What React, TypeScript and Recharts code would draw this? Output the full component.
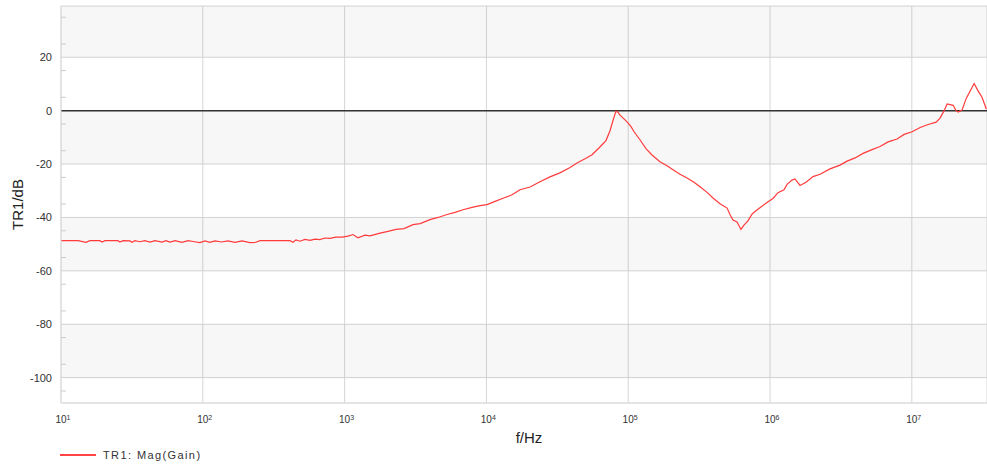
import {
  CartesianGrid,
  Line,
  LineChart,
  ReferenceArea,
  ReferenceLine,
  XAxis,
  YAxis,
} from "recharts";

// 周波数 [Hz] とゲイン [dB]。画像から読み取った値。
const freqHz = [
  10, 13.2, 15, 16, 18.8, 19.5, 20.4, 25.2, 26, 27.4, 30.7, 31.7, 33.2, 36, 39,
  42.4, 46, 51.5, 55, 58.7, 63.7, 71.3, 78.7, 85.3, 95.5, 103.7, 112, 122, 136,
  150, 169, 189, 215, 237, 253, 412, 433, 454, 484, 525, 570, 618, 670, 727,
  789, 869, 959, 1057, 1146, 1243, 1393, 1510, 1778, 2024, 2303, 2624, 3036,
  3404, 4000, 4560, 5275, 6011, 6843, 7912, 9018, 10100, 11500, 13100, 15150,
  17260, 20300, 23870, 28060, 33000, 38900, 43560, 49600, 55600, 63200, 69700,
  74400, 78100, 82000, 84700, 87500, 93400, 98100, 104700, 110000, 121000,
  133400, 147100, 167500, 187800, 207000, 232000, 260000, 291000, 321000,
  360000, 396000, 444000, 498000, 523000, 548000, 585000, 624000, 655000,
  699000, 746000, 796000, 877000, 968000, 1050000, 1138000, 1255000, 1318000,
  1430000, 1500000, 1628000, 1795000, 2011000, 2253000, 2649000, 3117000,
  3493000, 3981000, 4531000, 5244000, 5970000, 6800000, 7870000, 8830000,
  10050000, 11450000, 13040000, 14840000, 15820000, 16900000, 17740000,
  19550000, 20520000, 21190000, 22600000, 24150000, 27500000, 29310000,
  31260000, 33600000,
];

const gainDb = [
  -48.7, -48.7, -49.3, -48.7, -48.7, -49.2, -48.7, -48.7, -49.2, -48.7, -48.8,
  -49.3, -48.7, -49.1, -48.7, -49.2, -48.7, -49.2, -48.7, -49.2, -48.7, -49.3,
  -48.7, -49.0, -49.4, -48.8, -49.3, -48.8, -49.2, -48.8, -49.3, -48.8, -49.4,
  -49.3, -48.7, -48.7, -49.3, -48.4, -48.9, -48.2, -48.6, -48.1, -48.3, -47.7,
  -47.8, -47.4, -47.4, -47.0, -46.4, -47.6, -46.6, -46.9, -45.9, -45.2, -44.5,
  -44.2, -42.7, -42.3, -40.8, -40.0, -38.9, -38.1, -37.1, -36.2, -35.6, -35.2,
  -34.0, -32.8, -31.5, -29.6, -28.6, -26.6, -24.8, -23.3, -21.3, -19.6, -18.0,
  -16.5, -13.6, -11.2, -7.5, -3.7, -0.2, -0.6, -1.7, -3.1, -4.2, -6.0, -7.9,
  -10.9, -14.2, -16.6, -19.1, -20.6, -22.1, -23.8, -25.2, -26.8, -28.5, -30.6,
  -32.7, -34.9, -36.5, -39.0, -41.0, -41.7, -44.5, -42.9, -41.3, -38.8, -37.5,
  -35.8, -34.1, -32.9, -30.7, -29.6, -27.6, -26.0, -25.6, -28.0, -26.8, -24.7,
  -23.8, -21.8, -20.4, -18.9, -17.7, -16.0, -14.6, -13.4, -11.7, -10.6, -8.9,
  -7.9, -6.3, -5.2, -4.3, -2.8, 0.0, 2.5, 2.0, 0.0, -0.5, 0.2, 4.5, 10.2, 7.4,
  5.0, 0.5,
];

const seriesName = "TR1: Mag(Gain)";
const xTicks = [1e1, 1e2, 1e3, 1e4, 1e5, 1e6, 1e7];
const yTicks = [20, 0, -20, -40, -60, -80, -100];
const yMinorTicks = [
  35, 30, 25, 15, 10, 5, -5, -10, -15, -25, -30, -35, -45, -50, -55, -65, -70,
  -75, -85, -90, -95, -105,
];
// 灰色の帯（上端, 下端）
const bandTop = [39.2, 0, -40, -80];
const bandBottom = [20, -20, -60, -100];

const X_DOMAIN: [number, number] = [10, 3.39e7];
const Y_DOMAIN: [number, number] = [-109.5, 39.2];

const FONT = "'Liberation Sans', Arial, sans-serif";

const data = freqHz.map((f, i) => ({ f, gain: gainDb[i] }));

function XTick({ x, y, payload }: any) {
  const exp = Math.round(Math.log10(payload.value));
  return (
    <text x={x - 5.6} y={y + 8} fontFamily={FONT} fontSize={10} fill="#333" textAnchor="start">
      10
      <tspan fontSize={7} dy={-3}>
        {exp}
      </tspan>
    </text>
  );
}

function YTick({ x, y, payload }: any) {
  return (
    <text x={x} y={y + 4} fontFamily={FONT} fontSize={11} fill="#333" textAnchor="end">
      {payload.value}
    </text>
  );
}

export default function App() {
  return (
    <div style={{ position: "absolute", left: 0, top: 0, width: 987, height: 466, background: "#fff" }}>
      <LineChart width={987} height={466} data={data} margin={{ top: 6, right: 0, bottom: 0, left: 0 }}>
        {bandTop.map((t, i) => (
          <ReferenceArea key={t} y1={t} y2={bandBottom[i]} fill="#000" fillOpacity={0.03} stroke="none" />
        ))}
        <CartesianGrid stroke="#d6d6d6" strokeWidth={1} />
        <XAxis
          dataKey="f"
          type="number"
          scale="log"
          domain={X_DOMAIN}
          ticks={xTicks}
          allowDataOverflow
          height={63}
          axisLine={{ stroke: "#dddddd" }}
          tickLine={false}
          tickSize={0}
          tickMargin={12}
          tick={<XTick />}
          label={({ viewBox }: any) => (
            <text
              x={viewBox.x + viewBox.width / 2 + 5}
              y={viewBox.y + 40}
              textAnchor="middle"
              fontFamily={FONT}
              fontSize={15}
              fill="#222"
            >
              f/Hz
            </text>
          )}
        />
        <YAxis
          type="number"
          domain={Y_DOMAIN}
          ticks={yTicks}
          allowDataOverflow
          width={61}
          axisLine={{ stroke: "#dddddd" }}
          tickLine={false}
          tickSize={0}
          tickMargin={9}
          tick={<YTick />}
          label={({ viewBox }: any) => {
            const cx = viewBox.x + 23;
            const cy = viewBox.y + viewBox.height / 2;
            return (
              <text
                x={cx}
                y={cy}
                transform={`rotate(-90 ${cx} ${cy})`}
                textAnchor="middle"
                fontFamily={FONT}
                fontSize={15}
                fill="#222"
              >
                TR1/dB
              </text>
            );
          }}
        />
        {/* 副目盛り（左軸の内側に短い線） */}
        <YAxis
          yAxisId="minor"
          type="number"
          domain={Y_DOMAIN}
          ticks={yMinorTicks}
          allowDataOverflow
          mirror
          width={10}
          axisLine={false}
          tick={() => <g />}
          tickLine={{ stroke: "#cccccc" }}
          tickSize={5}
        />
        <ReferenceLine y={0} stroke="#333" strokeWidth={1.5} />
        <Line
          type="linear"
          dataKey="gain"
          stroke="#ff3b3b"
          strokeWidth={1.2}
          dot={false}
          isAnimationActive={false}
          name={seriesName}
        />
      </LineChart>
      <div
        style={{
          position: "absolute",
          left: 60,
          top: 448,
          display: "flex",
          alignItems: "center",
          height: 14,
          fontFamily: FONT,
          fontSize: 11,
          color: "#333",
          letterSpacing: 1.4,
        }}
      >
        <div style={{ width: 36, height: 2, background: "#ff4444", marginRight: 7 }} />
        <span>{seriesName}</span>
      </div>
    </div>
  );
}
